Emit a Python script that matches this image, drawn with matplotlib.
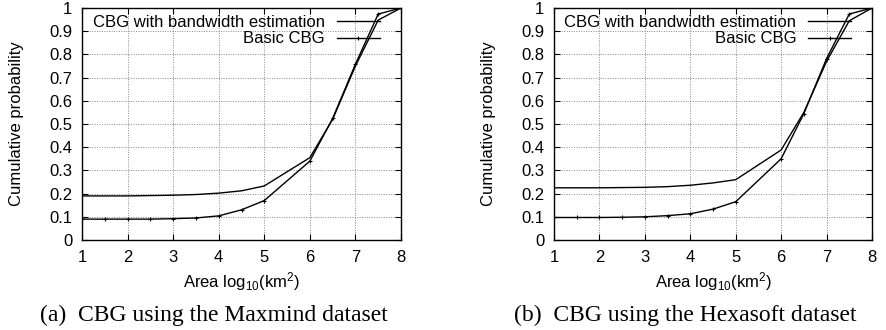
import matplotlib
matplotlib.use("Agg")
import matplotlib.pyplot as plt

# data
x_bw = [1, 2, 3, 3.5, 4, 4.5, 5, 6, 6.5, 7, 7.5, 8]
x_basic = [1, 1.5, 2, 2.5, 3, 3.5, 4, 4.5, 5, 6, 6.5, 7, 7.5, 8]

maxmind_bw = [0.19, 0.19, 0.193, 0.196, 0.202, 0.212, 0.233, 0.355, 0.52, 0.75, 0.948, 1.0]
maxmind_basic = [0.09, 0.09, 0.09, 0.09, 0.092, 0.095, 0.104, 0.13, 0.17, 0.34, 0.524, 0.758, 0.974, 1.0]

hexa_bw = [0.225, 0.225, 0.227, 0.23, 0.236, 0.246, 0.26, 0.388, 0.55, 0.77, 0.945, 1.0]
hexa_basic = [0.097, 0.097, 0.097, 0.098, 0.1, 0.105, 0.113, 0.133, 0.165, 0.35, 0.545, 0.782, 0.974, 1.0]

xticks = [1, 2, 3, 4, 5, 6, 7, 8]
yticks = [0, 0.1, 0.2, 0.3, 0.4, 0.5, 0.6, 0.7, 0.8, 0.9, 1]
ytick_labels = ["0", "0.1", "0.2", "0.3", "0.4", "0.5", "0.6", "0.7", "0.8", "0.9", "1"]

captions = ["(a)  CBG using the Maxmind dataset", "(b)  CBG using the Hexasoft dataset"]

plt.rcParams['font.family'] = ['Liberation Sans', 'DejaVu Sans']
plt.rcParams['mathtext.fontset'] = 'custom'
plt.rcParams['mathtext.rm'] = 'Liberation Sans'
plt.rcParams['mathtext.it'] = 'Liberation Sans'

fs = 12

fig = plt.figure(figsize=(8.86, 3.30), dpi=100)

positions = [[82 / 886, 90 / 330, 319 / 886, 232 / 330],
             [554 / 886, 90 / 330, 318 / 886, 232 / 330]]
data = [(maxmind_bw, maxmind_basic), (hexa_bw, hexa_basic)]

for pos, (bw, basic), cap in zip(positions, data, captions):
    ax = fig.add_axes(pos)
    ax.plot(x_bw, bw, color='black', lw=1.0, label='CBG with bandwidth estimation')
    ax.plot(x_basic, basic, color='black', lw=1.0, marker='+', markersize=3.5,
            markeredgewidth=0.8, label='Basic CBG')
    ax.set_xlim(1, 8)
    ax.set_ylim(0, 1)
    ax.set_xticks(xticks)
    ax.set_yticks(yticks)
    ax.set_yticklabels(ytick_labels)
    ax.grid(True, linestyle=(0, (1, 1.5)), color='#888888', lw=0.7)
    ax.tick_params(direction='in', top=True, right=True, labelsize=fs, length=4)
    ax.tick_params(axis='y', pad=7)
    ax.tick_params(axis='x', pad=7)
    for s in ax.spines.values():
        s.set_linewidth(1.0)
    ax.set_ylabel('Cumulative probability', fontsize=fs, labelpad=18)
    ax.set_xlabel(r'Area log$_{10}$(km$^2$)', fontsize=fs, labelpad=4)
    ax.legend(loc='upper right', bbox_to_anchor=(0.945, 0.985), frameon=False,
              markerfirst=False, fontsize=fs, handlelength=2.6, handletextpad=0.7,
              labelspacing=0.1, borderaxespad=0.0, borderpad=0.2)
    ax.text(0.412, -0.278, cap, transform=ax.transAxes, ha='center', va='top',
            fontsize=17, family='Liberation Serif')

fig.savefig('out.png', dpi=100)
